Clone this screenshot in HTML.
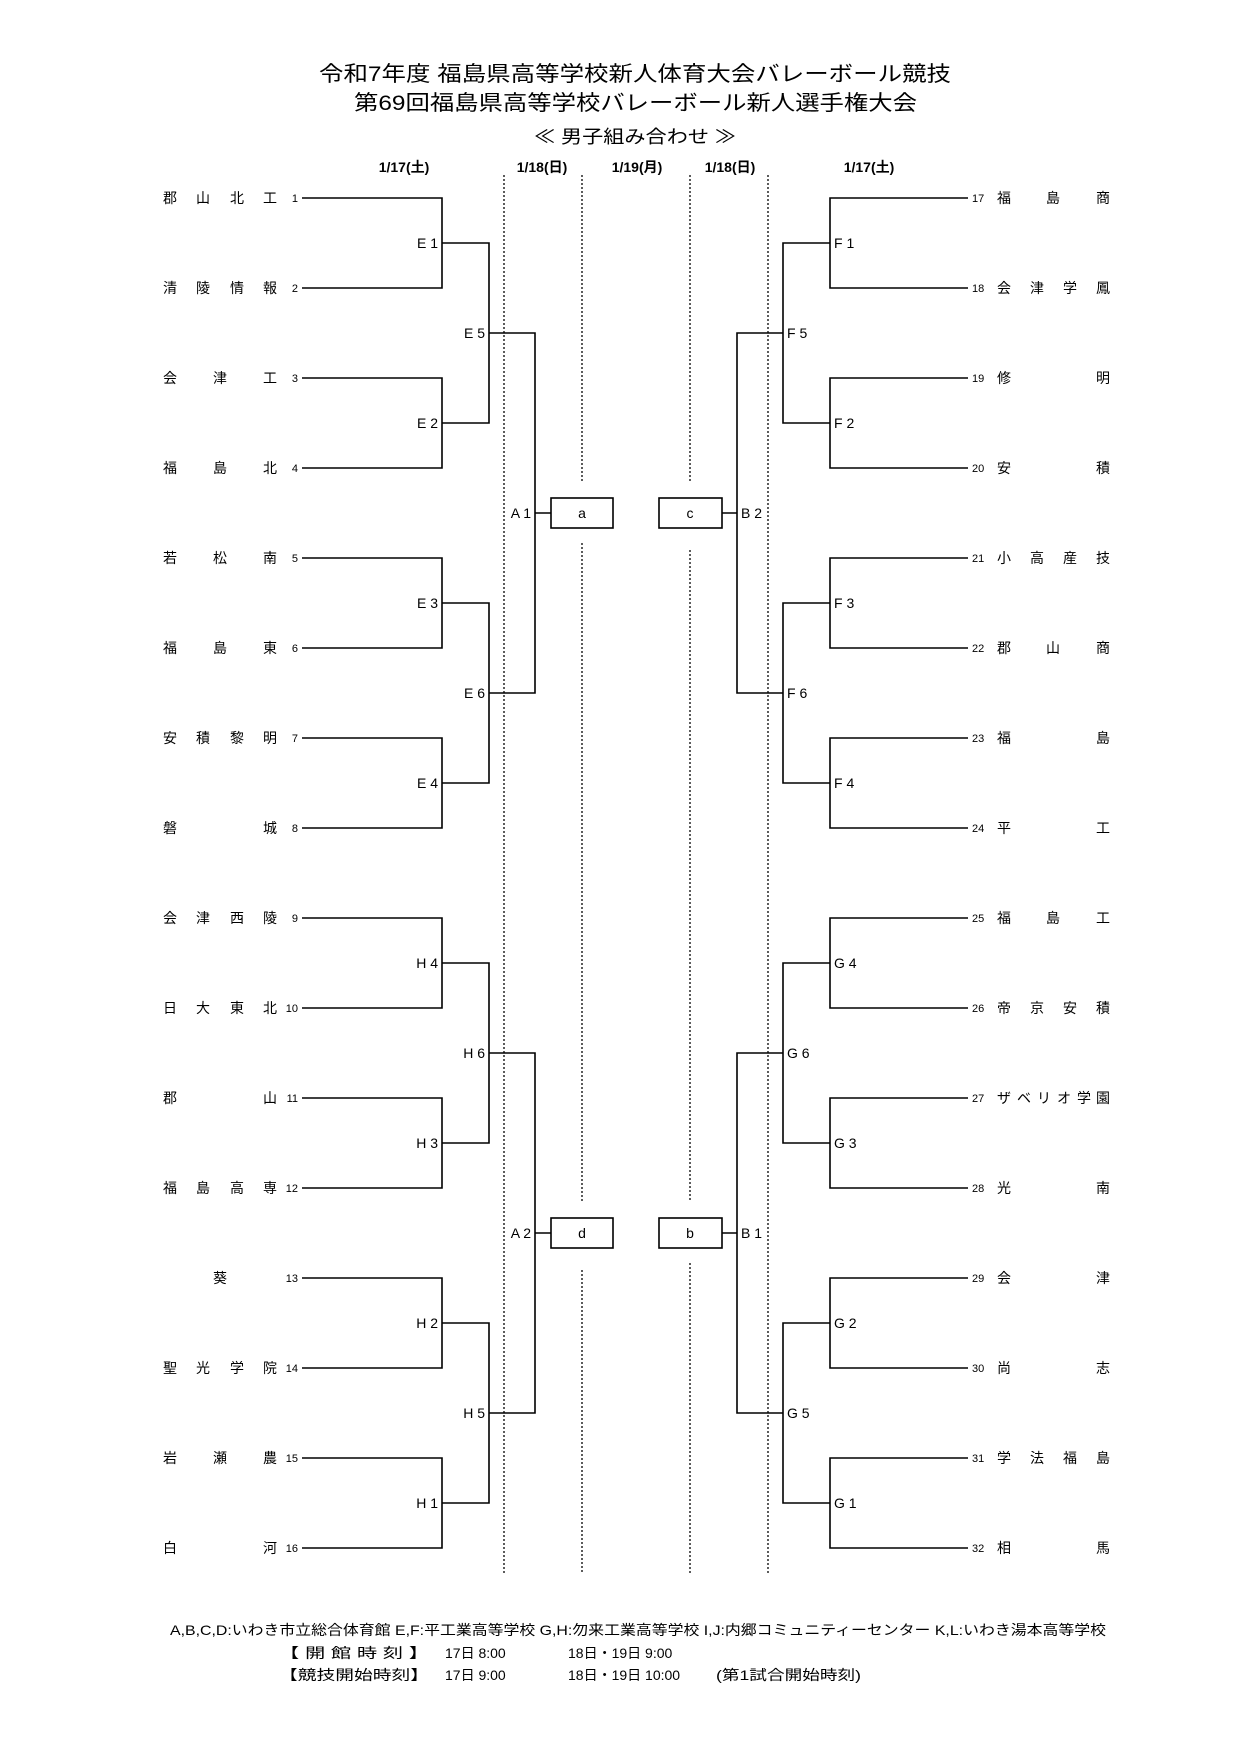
<!DOCTYPE html>
<html><head><meta charset="utf-8"><style>
html,body{margin:0;padding:0;background:#fff}
svg{display:block}
text{font-family:"Liberation Sans","Noto Sans CJK JP",sans-serif;fill:#000}
</style></head><body>
<svg width="1241" height="1754" viewBox="0 0 1241 1754" xmlns="http://www.w3.org/2000/svg">
<g font-size="21">
<text x="319" y="81" textLength="632" lengthAdjust="spacingAndGlyphs">令和7年度 福島県高等学校新人体育大会バレーボール競技</text>
<text x="354" y="110" textLength="563" lengthAdjust="spacingAndGlyphs">第69回福島県高等学校バレーボール新人選手権大会</text>
</g>
<text x="534" y="143" font-size="18" textLength="202" lengthAdjust="spacingAndGlyphs">≪ 男子組み合わせ ≫</text>
<g font-size="14" text-anchor="middle" font-weight="bold">
<text x="404" y="172">1/17(土)</text>
<text x="542" y="172">1/18(日)</text>
<text x="637" y="172">1/19(月)</text>
<text x="730" y="172">1/18(日)</text>
<text x="869" y="172">1/17(土)</text>
</g>
<g stroke="#333" stroke-width="1.6" stroke-dasharray="2,2">
<path d="M504 175V1573M768 175V1573M582 175V481M582 543V1201M582 1270V1573M690 175V481M690 550V1201M690 1263V1573"/>
</g>
<g stroke="#000" stroke-width="1.6" fill="none">
<path d="M302 198H442V288H302M302 378H442V468H302M302 558H442V648H302M302 738H442V828H302M302 918H442V1008H302M302 1098H442V1188H302M302 1278H442V1368H302M302 1458H442V1548H302"/>
<path d="M442 243H489V423H442M442 603H489V783H442M442 963H489V1143H442M442 1323H489V1503H442"/>
<path d="M489 333H535V693H489M489 1053H535V1413H489M535 513H551M535 1233H551"/>
<path d="M968 198H830V288H968M968 378H830V468H968M968 558H830V648H968M968 738H830V828H968M968 918H830V1008H968M968 1098H830V1188H968M968 1278H830V1368H968M968 1458H830V1548H968"/>
<path d="M830 243H783V423H830M830 603H783V783H830M830 963H783V1143H830M830 1323H783V1503H830"/>
<path d="M783 333H737V693H783M783 1053H737V1413H783M737 513H722M737 1233H722"/>
<rect x="551" y="498" width="62" height="30"/><rect x="659" y="498" width="63" height="30"/>
<rect x="551" y="1218" width="62" height="30"/><rect x="659" y="1218" width="63" height="30"/>
</g>
<g font-size="14" text-anchor="middle">
<text x="582" y="518">a</text><text x="690" y="518">c</text>
<text x="582" y="1238">d</text><text x="690" y="1238">b</text>
</g>
<g font-size="14" text-anchor="middle">
<text x="170 203 237 270" y="203">郡山北工</text>
<text x="170 203 237 270" y="293">清陵情報</text>
<text x="170 220 270" y="383">会津工</text>
<text x="170 220 270" y="473">福島北</text>
<text x="170 220 270" y="563">若松南</text>
<text x="170 220 270" y="653">福島東</text>
<text x="170 203 237 270" y="743">安積黎明</text>
<text x="170 270" y="833">磐城</text>
<text x="170 203 237 270" y="923">会津西陵</text>
<text x="170 203 237 270" y="1013">日大東北</text>
<text x="170 270" y="1103">郡山</text>
<text x="170 203 237 270" y="1193">福島高専</text>
<text x="220" y="1283">葵</text>
<text x="170 203 237 270" y="1373">聖光学院</text>
<text x="170 220 270" y="1463">岩瀬農</text>
<text x="170 270" y="1553">白河</text>
<text x="1004 1053 1103" y="203">福島商</text>
<text x="1004 1037 1070 1103" y="293">会津学鳳</text>
<text x="1004 1103" y="383">修明</text>
<text x="1004 1103" y="473">安積</text>
<text x="1004 1037 1070 1103" y="563">小高産技</text>
<text x="1004 1053 1103" y="653">郡山商</text>
<text x="1004 1103" y="743">福島</text>
<text x="1004 1103" y="833">平工</text>
<text x="1004 1053 1103" y="923">福島工</text>
<text x="1004 1037 1070 1103" y="1013">帝京安積</text>
<text x="1004 1024 1044 1064 1084 1103" y="1103">ザベリオ学園</text>
<text x="1004 1103" y="1193">光南</text>
<text x="1004 1103" y="1283">会津</text>
<text x="1004 1103" y="1373">尚志</text>
<text x="1004 1037 1070 1103" y="1463">学法福島</text>
<text x="1004 1103" y="1553">相馬</text>
</g>
<g font-size="11" text-anchor="end">
<text x="298" y="202">1</text><text x="298" y="292">2</text><text x="298" y="382">3</text><text x="298" y="472">4</text>
<text x="298" y="562">5</text><text x="298" y="652">6</text><text x="298" y="742">7</text><text x="298" y="832">8</text>
<text x="298" y="922">9</text><text x="298" y="1012">10</text><text x="298" y="1102">11</text><text x="298" y="1192">12</text>
<text x="298" y="1282">13</text><text x="298" y="1372">14</text><text x="298" y="1462">15</text><text x="298" y="1552">16</text>
</g>
<g font-size="11">
<text x="972" y="202">17</text><text x="972" y="292">18</text><text x="972" y="382">19</text><text x="972" y="472">20</text>
<text x="972" y="562">21</text><text x="972" y="652">22</text><text x="972" y="742">23</text><text x="972" y="832">24</text>
<text x="972" y="922">25</text><text x="972" y="1012">26</text><text x="972" y="1102">27</text><text x="972" y="1192">28</text>
<text x="972" y="1282">29</text><text x="972" y="1372">30</text><text x="972" y="1462">31</text><text x="972" y="1552">32</text>
</g>
<g font-size="14" text-anchor="end">
<text x="438" y="248">E 1</text><text x="438" y="428">E 2</text><text x="438" y="608">E 3</text><text x="438" y="788">E 4</text>
<text x="438" y="968">H 4</text><text x="438" y="1148">H 3</text><text x="438" y="1328">H 2</text><text x="438" y="1508">H 1</text>
<text x="485" y="338">E 5</text><text x="485" y="698">E 6</text><text x="485" y="1058">H 6</text><text x="485" y="1418">H 5</text>
<text x="531" y="518">A 1</text><text x="531" y="1238">A 2</text>
</g>
<g font-size="14">
<text x="834" y="248">F 1</text><text x="834" y="428">F 2</text><text x="834" y="608">F 3</text><text x="834" y="788">F 4</text>
<text x="834" y="968">G 4</text><text x="834" y="1148">G 3</text><text x="834" y="1328">G 2</text><text x="834" y="1508">G 1</text>
<text x="787" y="338">F 5</text><text x="787" y="698">F 6</text><text x="787" y="1058">G 6</text><text x="787" y="1418">G 5</text>
<text x="741" y="518">B 2</text><text x="741" y="1238">B 1</text>
</g>
<g font-size="14">
<text x="170" y="1635" textLength="936" lengthAdjust="spacingAndGlyphs">A,B,C,D:いわき市立総合体育館 E,F:平工業高等学校 G,H:勿来工業高等学校 I,J:内郷コミュニティーセンター K,L:いわき湯本高等学校</text>
<text x="279" y="1658" textLength="150" lengthAdjust="spacingAndGlyphs">【 開 館 時 刻 】</text>
<text x="445" y="1658">17日 8:00</text>
<text x="568" y="1658">18日・19日 9:00</text>
<text x="279" y="1680" textLength="150" lengthAdjust="spacingAndGlyphs">【競技開始時刻】</text>
<text x="445" y="1680">17日 9:00</text>
<text x="568" y="1680">18日・19日 10:00</text>
<text x="716" y="1680" textLength="145" lengthAdjust="spacingAndGlyphs">(第1試合開始時刻)</text>
</g>
</svg>
</body></html>
